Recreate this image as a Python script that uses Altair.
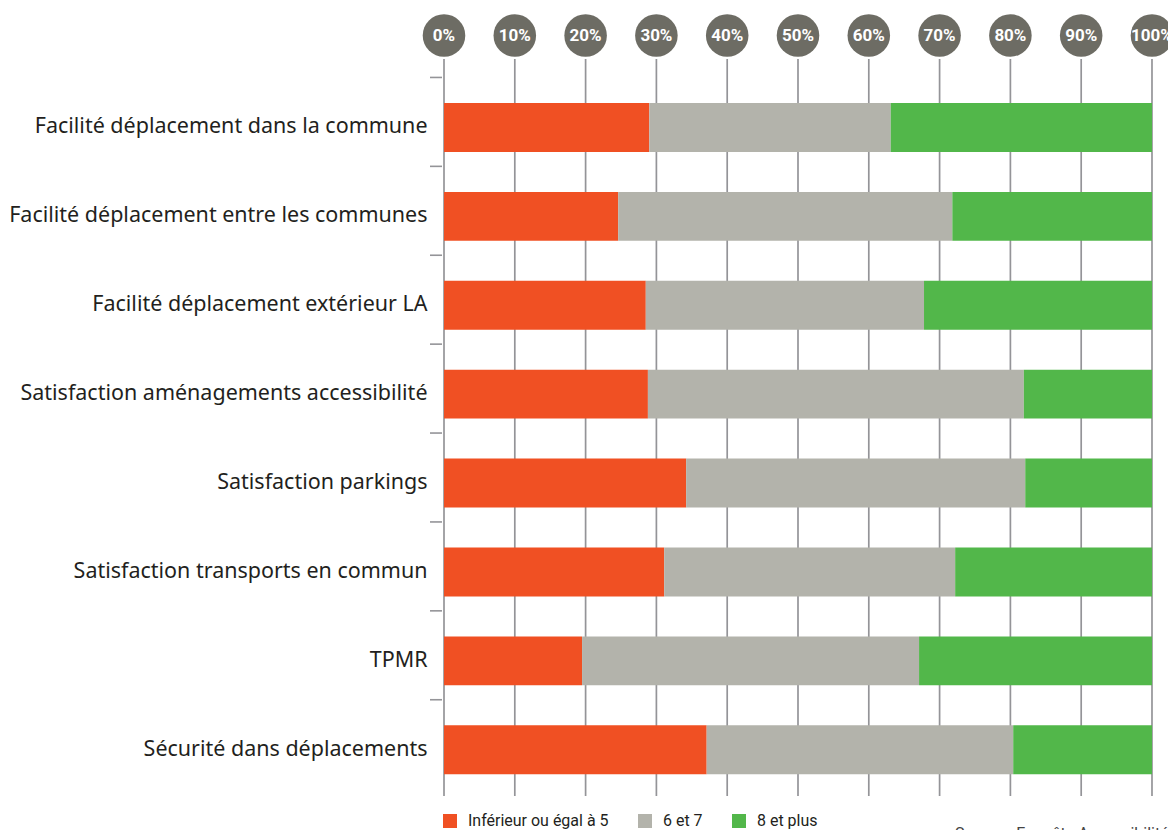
import altair as alt
import pandas as pd

categories = [
    "Facilité déplacement dans la commune",
    "Facilité déplacement entre les communes",
    "Facilité déplacement extérieur LA",
    "Satisfaction aménagements accessibilité",
    "Satisfaction parkings",
    "Satisfaction transports en commun",
    "TPMR",
    "Sécurité dans déplacements",
]
series = ["Inférieur ou égal à 5", "6 et 7", "8 et plus"]
colors = ["#f05023", "#b3b3ab", "#52b74a"]

low = [29.0, 24.6, 28.5, 28.8, 34.2, 31.1, 19.5, 37.1]
mid = [34.1, 47.2, 39.3, 53.1, 47.9, 41.1, 47.6, 43.3]
high = [36.9, 28.2, 32.2, 18.1, 17.9, 27.8, 32.9, 19.6]

tick_values = [0, 10, 20, 30, 40, 50, 60, 70, 80, 90, 100]
tick_labels = ["0%", "10%", "20%", "30%", "40%", "50%", "60%", "70%", "80%", "90%", "100%"]

source_text = ["Source : Enquête Accessibilité"]

rows = []
for i, c in enumerate(categories):
    for j, (s, v) in enumerate(zip(series, [low[i], mid[i], high[i]])):
        rows.append({"cat": c, "serie": s, "val": v, "ord": j})
df = pd.DataFrame(rows)
ticks_df = pd.DataFrame({"pct": tick_values, "label": tick_labels})
cat_df = pd.DataFrame({"cat": categories})
src_df = pd.DataFrame({"t": source_text})

NARROW = "Roboto"

xscale = alt.Scale(domain=[0, 100], nice=False, zero=True)
yscale = alt.Scale(paddingInner=0.45, paddingOuter=0.225, round=False)
yaxis = alt.Axis(
    title=None,
    ticks=False,
    domain=False,
    labelFont="Noto Sans",
    labelFontSize=21.5,
    labelColor="#231f20",
    labelPadding=17,
    labelLimit=600,
)

grid = alt.Chart(ticks_df).mark_rule(color="#949498", strokeWidth=1.7).encode(
    x=alt.X("pct:Q", scale=xscale, axis=None),
    y=alt.value(-24),
    y2=alt.value(713),
)

ytick = alt.Chart(cat_df).mark_rule(color="#949498", strokeWidth=1.6, yOffset=-50).encode(
    y=alt.Y("cat:N", sort=categories, scale=yscale, axis=yaxis),
    x=alt.value(-14),
    x2=alt.value(-2),
)

bars = alt.Chart(df).mark_bar().encode(
    x=alt.X("val:Q", stack="zero", scale=xscale, axis=None),
    y=alt.Y("cat:N", sort=categories, scale=yscale, axis=yaxis),
    color=alt.Color(
        "serie:N",
        scale=alt.Scale(domain=series, range=colors),
        legend=alt.Legend(
            title=None,
            orient="none",
            legendX=-2,
            legendY=730,
            direction="horizontal",
            symbolType="square",
            symbolSize=196,
            symbolStrokeWidth=0,
            symbolOpacity=1,
            labelFont=NARROW,
            labelFontSize=16,
            labelColor="#231f20",
            labelOffset=10,
            columnPadding=28,
            padding=0,
        ),
    ),
    order=alt.Order("ord:Q"),
)

circles = alt.Chart(ticks_df).mark_point(
    shape="circle", filled=True, size=1810, color="#6d6c64", opacity=1
).encode(
    x=alt.X("pct:Q", scale=xscale, axis=None),
    y=alt.value(-47.5),
)

clabels = alt.Chart(ticks_df).mark_text(
    font=NARROW,
    fontWeight="bold",
    fontSize=17,
    color="white",
    align="center",
    baseline="middle",
).encode(
    x=alt.X("pct:Q", scale=xscale, axis=None),
    y=alt.value(-47),
    text="label:N",
)

src = alt.Chart(src_df).mark_text(
    font=NARROW, fontSize=16, color="#444444", align="left", baseline="alphabetic"
).encode(
    x=alt.value(511),
    y=alt.value(756),
    text="t:N",
)

chart = alt.layer(grid, ytick, bars, circles, clabels, src).properties(
    width=708,
    height=711.2,
    padding={"left": 436, "top": 75, "right": 16, "bottom": 44},
    autosize=alt.AutoSizeParams(type="none"),
).configure_view(stroke=None)

chart.save("out.html", embed_options={"renderer": "svg", "actions": False})
